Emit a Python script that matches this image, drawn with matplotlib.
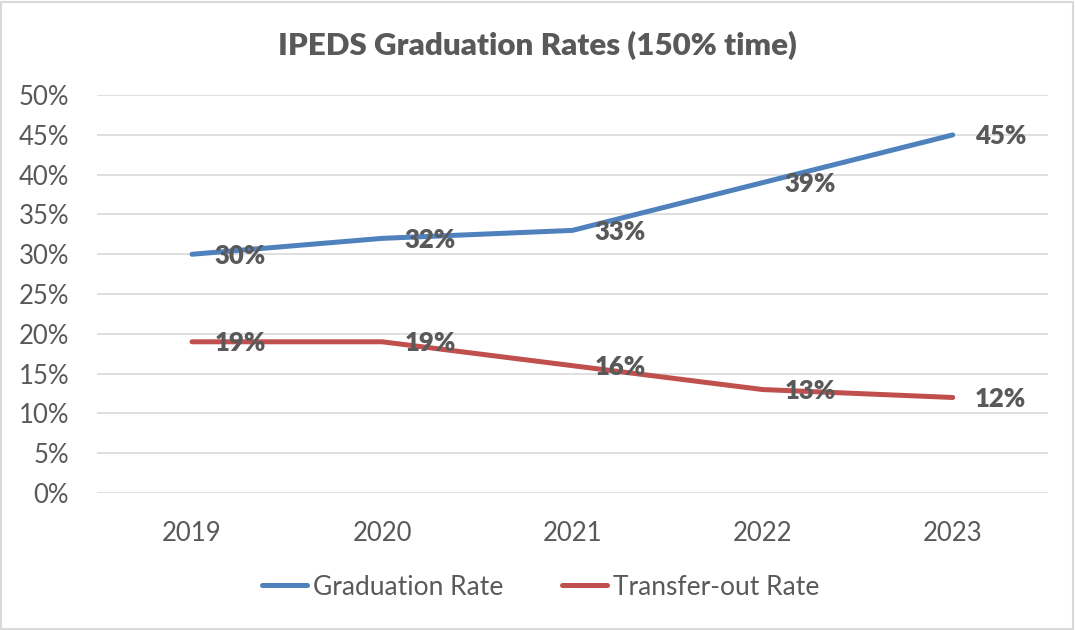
import matplotlib.pyplot as plt
from matplotlib.patches import Rectangle

years = ['2019', '2020', '2021', '2022', '2023']
grad_rate = [30, 32, 33, 39, 45]
transfer_rate = [19, 19, 16, 13, 12]

plt.rcParams['font.family'] = 'Lato'
gray = '#595959'

fig = plt.figure(figsize=(10.75, 6.3), dpi=100)
ax = fig.add_axes([0.0902, 0.2175, 0.8845, 0.6315])

x = list(range(len(years)))
ax.plot(x, grad_rate, color='#4F81BD', lw=3.6, solid_capstyle='round',
        label='Graduation Rate', zorder=3)
ax.plot(x, transfer_rate, color='#C0504D', lw=3.6, solid_capstyle='round',
        label='Transfer-out Rate', zorder=3)

# data labels to the right of each point
for series in (grad_rate, transfer_rate):
    for xi, v in zip(x, series):
        ax.annotate(f'{v}%', (xi, v), xytext=(16, -1), textcoords='offset points',
                    ha='left', va='center', fontsize=18.5, fontweight=800,
                    family='Lato', color=gray, zorder=4)

ax.set_xlim(-0.5, 4.5)
ax.set_ylim(0, 50)
ax.set_xticks(x)
ax.set_xticklabels(years)
ax.set_yticks(range(0, 51, 5))
ax.set_yticklabels([f'{t}%' for t in range(0, 51, 5)])
ax.tick_params(length=0, labelsize=18.5, labelcolor=gray)
ax.tick_params(axis='y', pad=20)
ax.tick_params(axis='x', pad=20)
ax.grid(axis='y', color='#D9D9D9', lw=1.2)
ax.set_axisbelow(True)
for s in ax.spines.values():
    s.set_visible(False)

fig.text(0.5, 0.928, 'IPEDS Graduation Rates (150% time)', ha='center',
         va='center', fontsize=22.5, fontweight=800, family='Lato', color=gray)

leg = fig.legend(loc='center', bbox_to_anchor=(0.503, 0.068), ncol=2,
                 frameon=False, fontsize=19, handlelength=1.7,
                 handletextpad=0.25, columnspacing=2.2)
for t in leg.get_texts():
    t.set_color(gray)

fig.patches.append(Rectangle((0.001, 0.002), 0.997, 0.995, transform=fig.transFigure,
                             fill=False, edgecolor='#D9D9D9', lw=1.5))

fig.savefig('out.png', dpi=100)
